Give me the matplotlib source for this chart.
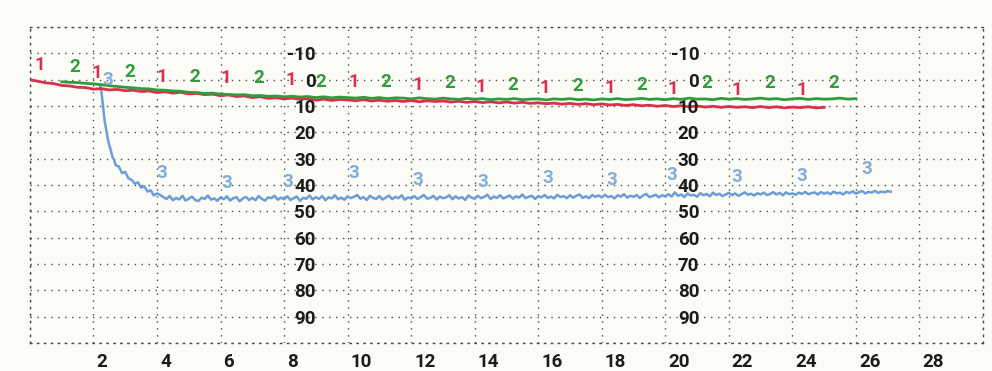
import numpy as np
import matplotlib
matplotlib.use("Agg")
import matplotlib.pyplot as plt
from matplotlib.transforms import ScaledTranslation

# series 1 (red), sampled every 0.25 from x=0
red_y = [0.0, 0.6, 1.2, 1.5, 2.2, 2.4, 2.9, 3.0, 3.6, 3.4, 3.9, 3.7,
         4.2, 4.0, 4.5, 4.3, 4.9, 4.6, 5.1, 4.8, 5.4, 5.2, 5.7, 5.5,
         6.1, 5.8, 6.4, 6.2, 6.8, 6.5, 7.1, 6.9, 7.3, 7.0, 7.5, 7.2,
         7.8, 7.4, 7.9, 7.5, 7.7, 8.0, 7.6, 8.1, 7.8, 8.2, 7.9, 8.3,
         7.9, 8.4, 8.0, 8.3, 8.1, 8.5, 8.2, 8.6, 8.3, 8.7, 8.4, 8.8,
         8.5, 8.9, 8.6, 9.0, 8.8, 9.1, 8.9, 9.3, 9.0, 9.4, 9.1, 9.5,
         9.2, 9.6, 9.4, 9.8, 9.5, 9.9, 9.7, 10.1, 9.8, 10.2, 9.9, 10.3,
         10.0, 10.4, 10.1, 10.5, 10.2, 10.5, 10.3, 10.6, 10.2, 10.6, 10.3, 10.7,
         10.4, 10.6, 10.3, 10.7, 10.5]
red_x0 = 0.0

# series 2 (green), sampled every 0.25 from x=1
green_y = [0.8, 1.0, 1.1, 1.4, 1.6, 1.9, 2.3, 2.6, 2.9, 3.1, 3.4, 3.5,
           3.9, 4.0, 4.3, 4.4, 4.8, 4.9, 5.2, 5.1, 5.5, 5.6, 5.8, 5.7,
           6.1, 6.0, 6.3, 6.2, 6.5, 6.3, 6.6, 6.4, 6.8, 6.5, 6.9, 6.6,
           6.8, 7.0, 6.7, 7.1, 6.8, 7.2, 6.9, 7.0, 7.3, 6.9, 7.2, 7.4,
           7.0, 7.3, 7.5, 7.1, 7.4, 7.2, 7.6, 7.3, 7.5, 7.2, 7.6, 7.4,
           7.3, 7.7, 7.3, 7.5, 7.2, 7.6, 7.4, 7.7, 7.3, 7.5, 7.2, 7.6,
           7.4, 7.1, 7.5, 7.3, 7.6, 7.2, 7.5, 7.0, 7.4, 7.3, 7.6, 7.1,
           7.4, 7.2, 7.5, 7.3, 7.0, 7.4, 7.2, 7.6, 7.3, 7.1, 7.5, 7.2,
           7.4, 7.3, 7.0, 7.4, 7.2]
green_x0 = 1.0

# series 3 (blue): steep drop, then samples every 0.1 from x=4.1
blue_head_x = [2.2, 2.25, 2.3, 2.35, 2.4, 2.45, 2.5, 2.55, 2.6, 2.65, 2.7, 2.8,
               2.9, 3.0, 3.1, 3.2, 3.3, 3.4, 3.5, 3.6, 3.7, 3.8, 3.9, 4.0]
blue_head_y = [2.0, 4.5, 10.0, 15.5, 19.0, 22.5, 25.0, 27.0, 29.5, 30.5, 32.5, 33.0,
               35.5, 35.0, 37.5, 38.0, 39.5, 39.0, 41.0, 40.5, 42.5, 42.0, 44.0, 43.2]
blue_tail_y = [
    43.8, 44.6, 45.3, 44.2, 45.8, 44.9, 45.5, 44.1, 45.9, 45.2,
    44.4, 45.7, 46.1, 44.8, 45.3, 44.0, 45.6, 45.1, 46.0, 44.7,
    45.4, 44.3, 45.9, 45.0, 44.6, 46.2, 45.1, 44.5, 45.7, 44.9,
    45.8, 44.2, 45.3, 45.9, 44.7, 45.0, 44.1, 45.6, 44.8, 45.4,
    44.3, 45.7, 45.0, 44.4, 46.0, 44.9, 45.2, 44.0, 45.5, 44.6,
    45.3, 44.2, 45.8, 44.7, 45.1, 43.9, 45.4, 44.8, 45.6, 44.3,
    45.0, 44.5, 43.8, 45.2, 44.6, 45.7, 44.1, 44.9, 45.3, 44.2,
    45.5, 44.8, 44.0, 45.4, 44.5, 45.0, 43.9, 45.6, 44.7, 45.1,
    44.2, 45.3, 44.6, 43.8, 45.2, 44.9, 44.1, 45.5, 44.4, 45.0,
    44.7, 43.9, 45.4, 44.3, 45.1, 44.6, 45.7, 44.0, 44.8, 45.2,
    44.1, 45.0, 44.5, 43.7, 45.3, 44.4, 44.9, 43.9, 45.1, 44.6,
    44.0, 45.2, 44.3, 44.8, 43.6, 45.0, 44.5, 44.1, 45.3, 44.2,
    44.7, 43.8, 44.9, 44.4, 45.1, 43.7, 44.6, 44.2, 45.0, 43.9,
    44.8, 44.1, 43.6, 44.9, 44.3, 45.0, 43.8, 44.5, 44.0, 44.7,
    43.7, 44.6, 44.2, 45.1, 43.9, 44.4, 43.5, 44.8, 44.1, 44.5,
    43.8, 44.9, 44.0, 43.4, 44.6, 44.2, 43.7, 44.7, 43.9, 44.3,
    43.5, 44.4, 42.8, 44.1, 43.6, 44.6, 43.2, 44.0, 43.7, 44.5,
    43.1, 43.9, 43.4, 44.3, 42.9, 43.8, 43.3, 44.2, 43.6, 43.0,
    43.9, 43.2, 44.1, 43.5, 42.8, 43.7, 43.3, 44.0, 43.1, 43.6,
    42.9, 43.8, 43.4, 42.7, 43.6, 43.0, 43.9, 42.8, 43.5, 43.2,
    43.7, 42.9, 43.4, 42.6, 43.5, 43.1, 42.8, 43.6, 42.7, 43.3,
    42.8, 43.5, 42.5, 43.2, 42.9, 43.6, 42.6, 43.1, 42.4, 43.3,
    42.7, 42.3, 43.2, 42.6, 42.9, 42.2, 43.0, 42.5, 42.8, 42.3,
    42.6]
blue_tail_x0 = 4.1

# channel number markers written along each trace
ones_x = [0.3, 2.1, 4.15, 6.15, 8.2, 10.2, 12.2, 14.2, 16.2, 18.25, 20.25, 22.25, 24.3]
ones_y = [-5.6, -2.5, -1.0, -0.6, 0.1, 0.9, 2.0, 2.8, 3.2, 3.2, 3.5, 3.9, 3.9]
twos_x = [1.4, 3.15, 5.2, 7.2, 9.15, 11.2, 13.2, 15.2, 17.25, 19.25, 21.3, 23.3, 25.3]
twos_y = [-4.8, -2.9, -1.0, -0.6, 0.9, 0.9, 1.3, 2.0, 2.4, 2.0, 1.3, 1.3, 1.3]
threes_x = [2.45, 4.15, 6.2, 8.1, 10.2, 12.2, 14.25, 16.3, 18.3, 20.2, 22.25, 24.3, 26.35]
threes_y = [0.1, 35.5, 39.2, 38.9, 35.5, 38.1, 38.9, 37.3, 38.1, 36.2, 37.0, 36.6, 33.9]

# scale labels printed inside the plot
scale_vals = [-10, 0, 10, 20, 30, 40, 50, 60, 70, 80, 90]
scale_cols = [9.0, 21.07]
x_labels = [2, 4, 6, 8, 10, 12, 14, 16, 18, 20, 22, 24, 26, 28]

RED = '#d8304e'
GREEN = '#2f9d3b'
BLUE = '#6c9dd6'
BLUE_TXT = '#82acd9'
INK = '#1c1c1c'
BG = '#fcfcf6'
FONT = ['Liberation Sans Narrow', 'Roboto', 'DejaVu Sans']
FS = 13.5

fig = plt.figure(figsize=(9.92, 3.71), dpi=100, facecolor=BG)
ax = fig.add_axes([0.0302, 0.0755, 0.9607, 0.8517], facecolor=BG)

red_x = red_x0 + 0.25 * np.arange(len(red_y))
green_x = green_x0 + 0.25 * np.arange(len(green_y))
blue_x = np.concatenate([blue_head_x, blue_tail_x0 + 0.1 * np.arange(len(blue_tail_y))])
blue_y = np.concatenate([blue_head_y, blue_tail_y])

ax.plot(blue_x, blue_y, color=BLUE, lw=1.8, zorder=3)
ax.plot(red_x, red_y, color=RED, lw=2.0, zorder=4)
ax.plot(green_x, green_y, color=GREEN, lw=2.0, zorder=5)

for xs, ys, lab, col in [(ones_x, ones_y, '1', RED), (twos_x, twos_y, '2', GREEN),
                         (threes_x, threes_y, '3', BLUE_TXT)]:
    for x, y in zip(xs, ys):
        ax.text(x, y, lab, color=col, fontsize=FS, fontweight='bold',
                family=FONT, ha='center', va='center', zorder=6)

for cx in scale_cols:
    for v in scale_vals:
        ax.text(cx, v + 0.8, str(v), color=INK, fontsize=FS, fontweight='bold',
                family=FONT, ha='right', va='center', zorder=6)

ax.set_xlim(0, 30)
ax.set_ylim(100, -20)
ax.set_xticks(np.arange(0, 31, 2))
ax.set_xticklabels([''] + [str(v) for v in x_labels] + [''])
ax.set_yticks(np.arange(-20, 101, 10))
ax.set_yticklabels([])
ax.tick_params(length=0, pad=7, labelsize=FS, labelcolor=INK)
offset = ScaledTranslation(3 / 100, 0, fig.dpi_scale_trans)
for lbl in ax.get_xticklabels():
    lbl.set_family(FONT)
    lbl.set_fontweight('bold')
    lbl.set_horizontalalignment('left')
    lbl.set_transform(lbl.get_transform() + offset)

ax.grid(True, color='#4a4a4a', lw=1.0, linestyle=(0, (1, 4)))
for s in ax.spines.values():
    s.set_color('#4a4a4a')
    s.set_linewidth(1.0)
    s.set_linestyle((0, (1, 4)))

fig.savefig('out.png', dpi=100, facecolor=BG)
